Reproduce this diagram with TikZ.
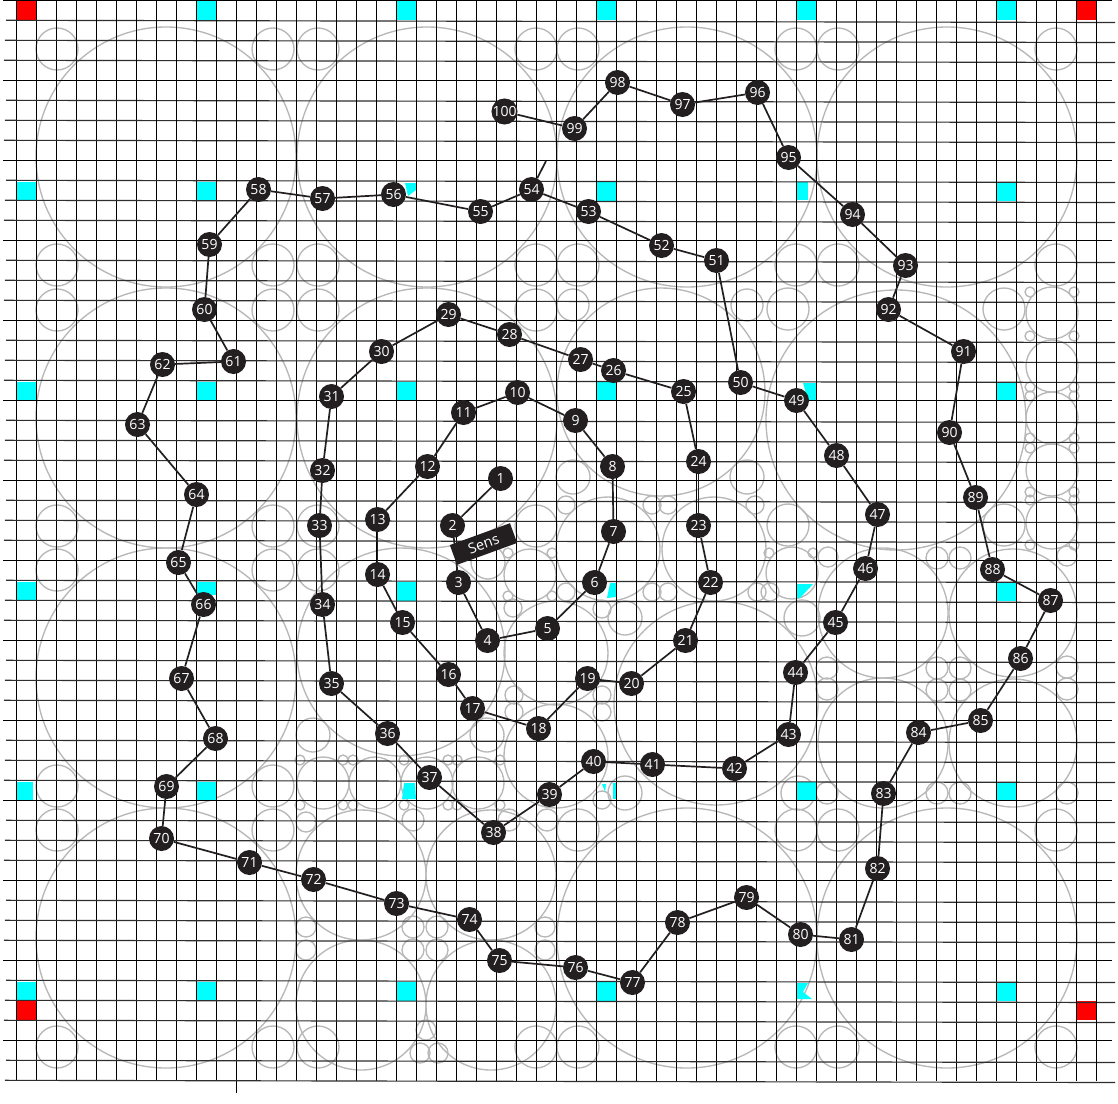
\documentclass[tikz,border=0pt]{standalone}
\usepackage{fontspec}
\setmainfont{Open Sans}
\definecolor{nodeink}{HTML}{231F20}
\definecolor{bubble}{HTML}{B8B8B8}
\definecolor{mark}{HTML}{00FFFF}
\tikzset{
  bubbleline/.style={draw=bubble,line width=1.35pt},
  gridline/.style={draw=black,line width=0.95pt},
  softgrid/.style={draw=black!82,line width=1.15pt},
  cyancell/.style={fill=mark,draw=none},
  redcell/.style={fill=red,draw=none},
  waypoint/.style={circle,fill=nodeink,draw=none,minimum size=25pt,inner sep=0pt,text=white,font=\fontsize{14}{15}\selectfont},
  route/.style={draw=nodeink,line width=1.7pt},
  senslabel/.style={fill=nodeink,draw=none,minimum width=64pt,minimum height=21pt,inner sep=0pt,text=white,rotate=20,font=\fontsize{14.5}{15}\selectfont}
}
\begin{document}
\begin{tikzpicture}[x=1pt,y=-1pt]
\useasboundingbox (0,0) rectangle (1118,1103);
\fill[white] (0,0) rectangle (1118,1103);

% large circles
\foreach \x/\y in {166/157,427/157,687/157,947/157,
                   166/418,427/418,896/420,
                   166/678,
                   166/938,687/938,947/938}
  \draw[bubbleline] (\x,\y) circle[radius=130pt];
\foreach \x/\y/\r in {661/392/104,401/652/104,716/703/102,
   608/549/52,714/549/52,556/653/52,556/756/52,
   883/613/65,1013/613/64,883/743/65,1013/743/64,
   361/875/65,491/875/65,361/1005/65,491/1005/65,
   1052/313/26,1052/366/26,1052/418/26,1052/470/26,1052/523/26,
   530/575/26,792/573/26,323/783/26,375/783/26,427/783/26,478/783/26}
  \draw[bubbleline] (\x,\y) circle[radius=\r pt];
% corner circles
\foreach \x/\y in {57/49,273/49,318/49,536/49,578/49,796/49,838/49,1056/49,
   57/265,273/265,318/265,536/265,578/265,796/265,838/265,1056/265,
   57/310,273/310,318/310,536/310,57/526,273/526,318/526,536/526,
   788/309,1004/309,788/525,1004/525,
   57/570,273/570,318/570,57/786,273/786,
   57/830,273/830,578/830,796/830,838/830,1056/830,
   57/1047,273/1047,318/1047,536/1047,578/1047,796/1047,838/1047,1056/1047}
  \draw[bubbleline] (\x,\y) circle[radius=21pt];
% middle and small circles
\foreach \x/\y/\r in {747/305/16,573/305/16,747/477/17,573/477/17,
   488/562/17,625/618/17,802/618/18,625/793/17,798/793/17,313/735/17,487/735/17,
   566/505/9,652/505/9,668/505/9,755/505/9,566/592/9,652/592/9,668/592/9,757/592/9,770/592/9,
   513/608/9,602/609/9,514/695/9,514/712/9,602/695/9,602/712/9,602/800/9,
   828/557/10,827/668/11,827/689/11,937/558/11,960/558/11,1067/556/10,
   937/668/11,960/668/11,937/690/11,960/690/11,1067/667/11,1067/689/11,
   937/793/11,960/793/11,827/793/11,1067/793/11,
   306/822/10,413/820/11,509/820/11,547/820/11,
   306/927/10,413/927/11,437/927/11,545/927/10,306/950/10,413/950/11,437/950/11,545/950/10,
   426/1030/10,420/1053/10,438/1053/10}
  \draw[bubbleline] (\x,\y) circle[radius=\r pt];
% tiny circles
\foreach \x/\y in {508/553,552/553,508/596,552/596,769/553,813/553,
   1030/292,1074/292,1030/336,1074/336,1030/387,1074/387,1030/396,1074/396,
   1030/438,1074/438,1030/448,1074/448,1030/492,1074/492,1030/500,1074/500,1030/545,1074/545,
   300/760,343/760,353/760,404/760,448/760,457/760,500/760,
   300/805,343/805,353/805,404/805,448/805,457/805,500/805}
  \draw[bubbleline] (\x,\y) circle[radius=5pt];

% marker squares
\foreach \x/\y in {197/1,397/1,597/1,797/1,997/1,
   17/182,197/182,597/182,997/182,
   17/382,197/382,397/382,597/382,997/382,
   17/582,397/582,997/582,
   197/782,797/782,997/782,
   17/982,197/982,397/982,597/982,997/982}
  \fill[cyancell] (\x,\y) rectangle ++(19.3,18.5);
\fill[cyancell] (17,782) rectangle (33,800);
\fill[cyancell] (197,582) rectangle (216,595);
\fill[cyancell] (797,182) rectangle (808,200);
\fill[cyancell] (405,183) -- (416,183) -- (416,190) -- (408,196) -- cycle;
\fill[cyancell] (803,383) -- (816,383) -- (816,400) -- (808,400) -- cycle;
\fill[cyancell] (610,583) -- (616,583) -- (616,597) -- (607,598) -- cycle;
\fill[cyancell] (613,783) rectangle (616,799);
\fill[cyancell] (602,784) -- (606,784) -- (605,792) -- cycle;
\fill[cyancell] (797,584) -- (813,584) -- (800,598) -- (797,598) -- cycle;
\fill[cyancell] (404,783) -- (415,783) -- (416,799) -- (402,799) -- cycle;
\fill[cyancell] (797,983) -- (808,983) -- (803,992) -- (812,999) -- (797,999) -- cycle;
\foreach \x/\y in {17/1,1077/1,17/1001,1077/1001}
  \fill[redcell] (\x,\y) rectangle ++(19.3,19);

% grid
\foreach \k in {0,...,54}{
  \pgfmathsetmacro{\gx}{16.4+20*\k}
  \draw[gridline] (\gx,0) -- (\gx,1081);
  \pgfmathsetmacro{\gy}{20.3*(\k>0)+20*(\k-1)*(\k>0)+0.3*(\k==0)}
  \pgfmathsetmacro{\gl}{3+mod(\k*7,4)}
  \pgfmathtruncatemacro{\flat}{mod(\k,4)==0 ? 1 : 0}
  \ifnum\flat=1
    \draw[gridline] (\gl,\gy) -- (1112,\gy);
  \else
    \draw[softgrid] (\gl,\gy) -- (1115,\gy+2.2);
  \fi
}
\draw[gridline] (236.4,1081) -- (236.4,1093);

% numbered points
\foreach \i/\x/\y in {1/500/478,2/452/525,3/458/582,4/487/640,5/547/628,6/594/582,7/613/531,8/612/466,9/575/420,10/517/392,
 11/463/412,12/427/466,13/377/519,14/377/574,15/402/622,16/448/674,17/472/708,18/538/728,19/587/678,20/631/683,
 21/685/640,22/710/582,23/698/525,24/698/461,25/683/391,26/613/370,27/580/359,28/509/334,29/448/314,30/381/351,
 31/331/396,32/322/470,33/319/525,34/322/604,35/331/683,36/387/733,37/429/777,38/493/832,39/549/794,40/593/761,
 41/652/764,42/734/768,43/788/734,44/795/672,45/835/622,46/865/568,47/877/514,48/836/455,49/796/400,50/740/382,
 51/716/260,52/661/245,53/588/211,54/531/189,55/480/211,56/393/194,57/322/198,58/258/189,59/209/244,60/204/309,
 61/233/361,62/162/364,63/137/424,64/196/494,65/178/562,66/203/604,67/181/678,68/215/738,69/166/786,70/161/838,
 71/249/862,72/313/879,73/396/903,74/469/919,75/499/960,76/575/967,77/632/982,78/677/922,79/746/897,80/800/934,
 81/851/939,82/877/868,83/883/793,84/918/732,85/980/720,86/1020/658,87/1050/600,88/992/569,89/975/497,90/949/432,
 91/963/351,92/888/309,93/905/265,94/852/214,95/788/157,96/757/92,97/682/104,98/617/82,99/574/128,100/504/111}
  \node[waypoint] (n\i) at (\x+0.5,\y+0.5) {\i};

% route
\foreach \a [remember=\a as \b (initially 1)] in {2,...,100}
  \draw[route] (n\b) -- (n\a);
\coordinate (stub) at (546,161);
\draw[route] (n54) -- (stub);

\node[senslabel] (sens) at (483.5,544) {Sens};
\end{tikzpicture}
\end{document}
